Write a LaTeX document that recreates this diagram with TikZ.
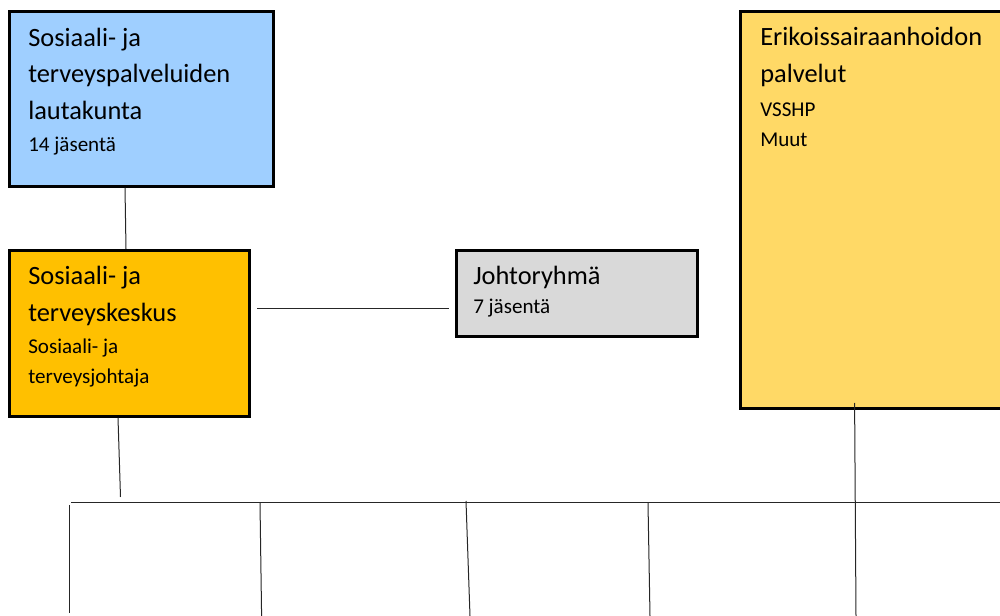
\documentclass[tikz,border=0pt]{standalone}
\usepackage{fontspec}
\setmainfont{Carlito}
\usetikzlibrary{positioning}
\definecolor{ltkblue}{HTML}{9FCFFF}
\definecolor{tkorange}{HTML}{FFC000}
\definecolor{jrgray}{HTML}{D9D9D9}
\definecolor{eshyellow}{HTML}{FFD966}

\begin{document}
\begin{tikzpicture}[x=0.75pt,y=-0.75pt,
    box/.style={draw=black,line width=2pt,anchor=north west,inner sep=0pt},
    conn/.style={line width=0.75pt,black!85},
    big/.style={anchor=base west,inner sep=0pt,font=\fontsize{19.8}{24}\selectfont},
    small/.style={anchor=base west,inner sep=0pt,font=\fontsize{15.8}{19}\selectfont}]
        \useasboundingbox (0,0) rectangle (1000,616);
        % laatikot
        \node[box,fill=ltkblue,minimum width=198pt,minimum height=131.25pt] (ltk) at (8,10) {};
        \node[box,fill=tkorange,minimum width=180pt,minimum height=124.5pt] (stk) at (8,249) {};
        \node[box,fill=jrgray,minimum width=180.75pt,minimum height=64.5pt] (jr) at (455,249) {};
        \node[box,fill=eshyellow,minimum width=203.25pt,minimum height=297.75pt] (esh) at (739,10) {};
        % tekstit
        \node[big] (ltk1) at (28,46.7) {Sosiaali- ja};
        \node[big] (ltk2) at (28,83) {terveyspalveluiden};
        \node[big] (ltk3) at (28,120) {lautakunta};
        \node[small] (ltk4) at (28,152) {14 jäsentä};
        \node[big] (stk1) at (28,284.3) {Sosiaali- ja};
        \node[big] (stk2) at (28,321.7) {terveyskeskus};
        \node[small] (stk3) at (28,354) {Sosiaali- ja};
        \node[small] (stk4) at (28,384) {terveysjohtaja};
        \node[big] (jr1) at (473,285) {Johtoryhmä};
        \node[small] (jr2) at (473,314) {7 jäsentä};
        \node[big] (esh1) at (760,45.7) {Erikoissairaanhoidon};
        \node[big] (esh2) at (760,82.3) {palvelut};
        \node[small] (esh3) at (760,116.7) {VSSHP};
        \node[small] (esh4) at (760,146.7) {Muut};
        % apupisteet
        \coordinate (stkend) at (120.5,497);
        \coordinate (busL) at (71,503);
        \coordinate (busR) at (1000,503);
        \coordinate (d1a) at (69.5,505);  \coordinate (d1b) at (69.5,613);
        \coordinate (d2a) at (260,503);   \coordinate (d2b) at (261.6,616);
        \coordinate (d3a) at (466,501);   \coordinate (d3b) at (470,616);
        \coordinate (d4a) at (648,503);   \coordinate (d4b) at (650,616);
        \coordinate (esha) at (854.6,403); \coordinate (eshb) at (856,616);
        % viivat
        \draw[conn] (125,0 |- ltk.south) -- (126,0 |- stk.north);
        \draw[conn,shorten <=5pt,shorten >=4.5pt] (stk.east |- 0,309) -- (jr.west |- 0,309);
        \draw[conn] (118,0 |- stk.south) -- (stkend);
        \draw[conn] (busL) -- (busR);
        \draw[conn] (d1a) -- (d1b);
        \draw[conn] (d2a) -- (d2b);
        \draw[conn] (d3a) -- (d3b);
        \draw[conn] (d4a) -- (d4b);
        \draw[conn] (esha) -- (eshb);
\end{tikzpicture}
\end{document}
